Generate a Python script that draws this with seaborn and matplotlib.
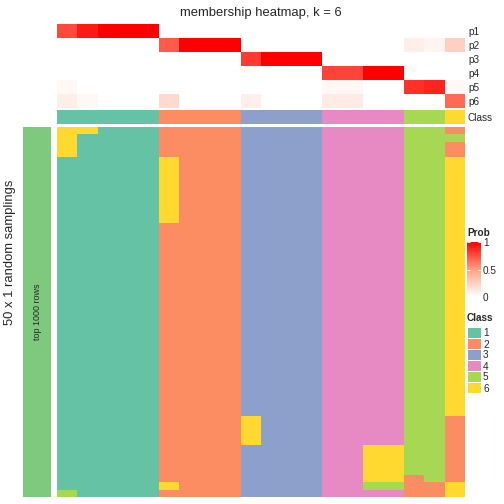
"""
Membership heatmap for k = 6: class probabilities on top, class
assignment of every random sampling below.
"""

import numpy as np
import matplotlib.pyplot as plt
import seaborn as sns
from matplotlib.colors import ListedColormap, LinearSegmentedColormap
from matplotlib.cm import ScalarMappable
from matplotlib.colors import Normalize

sns.set_style('white')
plt.rcParams['font.family'] = ['Liberation Sans', 'DejaVu Sans']

# Data
prob_rows = ['p1', 'p2', 'p3', 'p4', 'p5', 'p6']
p1 = [0.77, 0.92, 1, 1, 1, 0, 0, 0, 0, 0, 0, 0, 0, 0, 0, 0, 0, 0, 0, 0]
p2 = [0, 0, 0, 0, 0, 0.72, 1, 1, 1, 0, 0, 0, 0, 0, 0, 0, 0, 0.09, 0.06, 0.25]
p3 = [0, 0, 0, 0, 0, 0, 0, 0, 0, 0.82, 1, 1, 1, 0, 0, 0, 0, 0, 0, 0]
p4 = [0, 0, 0, 0, 0, 0, 0, 0, 0, 0, 0, 0, 0, 0.79, 0.79, 1, 1, 0, 0, 0]
p5 = [0.04, 0, 0, 0, 0, 0, 0, 0, 0, 0, 0, 0, 0, 0.04, 0.04, 0, 0,
      0.85, 0.89, 0.04]
p6 = [0.1, 0.04, 0, 0, 0, 0.2, 0, 0, 0, 0.09, 0, 0, 0, 0.11, 0.11, 0, 0,
      0, 0, 0.67]
sample_class = [1, 1, 1, 1, 1, 2, 2, 2, 2, 3, 3, 3, 3, 4, 4, 4, 4, 5, 5, 6]

# class of each of the 50 samplings, per column, as (class, n rows) runs
sampling_runs = [
    [(6, 4), (1, 45), (5, 1)],
    [(6, 1), (1, 49)],
    [(1, 50)],
    [(1, 50)],
    [(1, 50)],
    [(2, 4), (6, 9), (2, 35), (6, 1), (2, 1)],
    [(2, 50)],
    [(2, 50)],
    [(2, 50)],
    [(3, 39), (6, 4), (3, 7)],
    [(3, 50)],
    [(3, 50)],
    [(3, 50)],
    [(4, 50)],
    [(4, 50)],
    [(4, 43), (6, 5), (5, 1), (4, 1)],
    [(4, 43), (6, 5), (5, 1), (4, 1)],
    [(5, 47), (2, 3)],
    [(5, 48), (2, 2)],
    [(2, 1), (5, 1), (2, 2), (6, 35), (2, 9), (6, 2)],
]
class_names = ['1', '2', '3', '4', '5', '6']

W = H = 504
class_colors = sns.color_palette('Set2', 6)
class_cmap = ListedColormap(class_colors)
prob_cmap = LinearSegmentedColormap.from_list(
    'prob', ['#ffffff', '#ffa184', '#ff0000'])


def px_axes(fig, x0, y0, x1, y1):
    return fig.add_axes([x0 / W, 1 - y1 / H, (x1 - x0) / W, (y1 - y0) / H])


def main():
    fig = plt.figure(figsize=(W / 72, H / 72), dpi=72)

    # probability rows
    prob = np.array([p1, p2, p3, p4, p5, p6])
    ax = px_axes(fig, 57, 24, 465, 108)
    sns.heatmap(prob, ax=ax, cmap=prob_cmap, vmin=0, vmax=1, cbar=False,
                xticklabels=False, yticklabels=prob_rows)
    ax.yaxis.tick_right()
    ax.tick_params(axis='y', length=0, pad=3, labelsize=10, rotation=0)
    ax.set_title('membership heatmap, k = 6', fontsize=13, pad=8)

    # class row
    ax = px_axes(fig, 57, 110, 465, 124)
    sns.heatmap(np.array([sample_class]), ax=ax, cmap=class_cmap,
                vmin=0.5, vmax=6.5, cbar=False, xticklabels=False,
                yticklabels=['Class'])
    ax.yaxis.tick_right()
    ax.tick_params(axis='y', length=0, pad=3, labelsize=10, rotation=0)

    # samplings
    mat = np.array([np.repeat([c for c, n in runs], [n for c, n in runs])
                    for runs in sampling_runs]).T
    ax = px_axes(fig, 57, 127, 465, 497)
    sns.heatmap(mat, ax=ax, cmap=class_cmap, vmin=0.5, vmax=6.5, cbar=False,
                xticklabels=False, yticklabels=False)

    # left annotation bar
    ax = px_axes(fig, 23, 127, 51, 497)
    sns.heatmap(np.zeros((1, 1)), ax=ax, cmap=ListedColormap(['#7fc97f']),
                cbar=False, xticklabels=False, yticklabels=False)
    ax.text(0.5, 0.5, 'top 1000 rows', rotation=90, ha='center',
            va='center', fontsize=9, transform=ax.transAxes)
    fig.text(10 / W, 0.5, '50 x 1 random samplings', rotation=90,
             ha='center', va='center', fontsize=13)

    # Prob legend
    fig.text(467 / W, 1 - 233 / H, 'Prob', fontsize=10, fontweight='bold',
             va='center')
    cax = px_axes(fig, 467, 242, 481, 297)
    cb = fig.colorbar(ScalarMappable(Normalize(0, 1), prob_cmap), cax=cax,
                      ticks=[0, 0.5, 1])
    cb.outline.set_visible(False)
    cb.ax.set_yticklabels(['0', '0.5', '1'])
    cb.ax.tick_params(length=0, labelsize=10, pad=2)
    for v in [0.5, 1]:
        cax.axhline(v, 0, 0.2, color='white', lw=0.8)
        cax.axhline(v, 0.8, 1, color='white', lw=0.8)

    # Class legend
    fig.text(467 / W, 1 - 318 / H, 'Class', fontsize=10, fontweight='bold',
             va='center')
    lax = px_axes(fig, 467, 327, 481, 393)
    sns.heatmap(np.arange(1, 7).reshape(-1, 1), ax=lax, cmap=class_cmap,
                vmin=0.5, vmax=6.5, cbar=False, linewidths=0.8,
                linecolor='white', xticklabels=False,
                yticklabels=class_names)
    lax.yaxis.tick_right()
    lax.tick_params(axis='y', length=0, pad=2, labelsize=10, rotation=0)

    fig.savefig('out.png', dpi=72)


if __name__ == '__main__':
    main()
